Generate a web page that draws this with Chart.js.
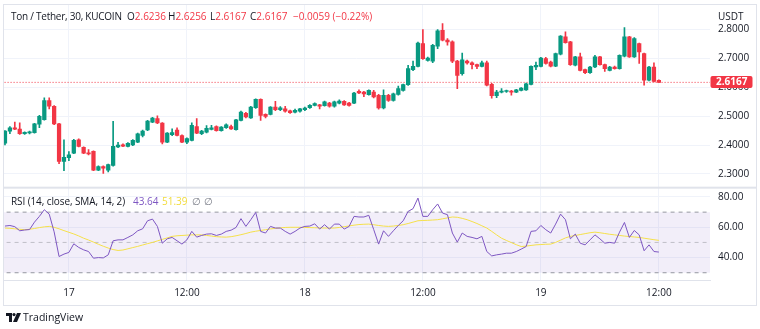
<!DOCTYPE html>
<html>
<head>
<meta charset="utf-8">
<script src="https://cdn.jsdelivr.net/npm/chart.js@4.4.0/dist/chart.umd.min.js"></script>
<style>
html, body { margin: 0; padding: 0; background: #fff; }
#wrap { position: relative; width: 760px; height: 329px; font-family: "Open Sans", sans-serif; color: #131722; }
#wrap canvas { position: absolute; left: 0; top: 0; }
#frame { position: absolute; left: 3px; top: 4px; width: 754px; height: 302px; border: 1px solid #e0e3eb; box-sizing: border-box; }
.t { position: absolute; font-size: 10px; line-height: 14px; white-space: nowrap; }
.r { color: #F23645; }
</style>
</head>
<body>
<div id="wrap">
  <canvas id="chart" width="760" height="329"></canvas>
  <div id="frame"></div>
  <span class="t" style="left:11px;top:9px;letter-spacing:-0.25px">Ton / Tether, 30, KUCOIN</span>
  <span class="t" style="left:127px;top:9px">O<span class="r">2.6236</span></span>
  <span class="t" style="left:168px;top:9px">H<span class="r">2.6256</span></span>
  <span class="t" style="left:210px;top:9px">L<span class="r">2.6167</span></span>
  <span class="t" style="left:250px;top:9px">C<span class="r">2.6167</span></span>
  <span class="t r" style="left:293px;top:9px">−0.0059 (−0.22%)</span>
  <span class="t" style="left:718px;top:9px">USDT</span>
  <span class="t" style="left:11px;top:194px;letter-spacing:-0.1px">RSI (14, close, SMA, 14, 2)</span>
  <span class="t" style="left:133px;top:194px;color:#7E57C2">43.64</span>
  <span class="t" style="left:162px;top:194px;color:#F2DC3C">51.39</span>
  <span class="t" style="left:192px;top:194px;color:#787B86">∅</span>
  <span class="t" style="left:204px;top:194px;color:#787B86">∅</span>
  <svg style="position:absolute;left:6px;top:313px" width="15" height="9" viewBox="0 0 15 9">
    <path d="M0 0h6v9H3V3H0z" fill="#131722"/>
    <circle cx="8" cy="1.6" r="1.6" fill="#131722"/>
    <path d="M11 0h4l-4 9H7z" fill="#131722"/>
  </svg>
  <span class="t" style="left:23px;top:310px;font-size:10.5px">TradingView</span>
</div>
<script>
// TON/USDT 30m candles with RSI pane

const tickIdx = [13, 37, 61, 85, 109, 133];
const tickLabels = ['17', '12:00', '18', '12:00', '19', '12:00'];

const opens = [
  2.406, 2.448, 2.459, 2.455, 2.439, 2.442, 2.443, 2.472, 2.488, 2.554,
  2.534, 2.473, 2.343, 2.356, 2.372, 2.418, 2.392, 2.373, 2.378, 2.313,
  2.325, 2.313, 2.329, 2.393, 2.401, 2.395, 2.400, 2.410, 2.433, 2.452,
  2.479, 2.491, 2.476, 2.410, 2.436, 2.452, 2.433, 2.410, 2.416, 2.464,
  2.439, 2.444, 2.454, 2.464, 2.450, 2.460, 2.464, 2.453, 2.485, 2.510,
  2.494, 2.529, 2.558, 2.506, 2.506, 2.531, 2.522, 2.525, 2.518, 2.514,
  2.517, 2.522, 2.529, 2.537, 2.539, 2.536, 2.545, 2.534, 2.545, 2.551,
  2.545, 2.545, 2.586, 2.583, 2.574, 2.583, 2.572, 2.528, 2.572, 2.554,
  2.575, 2.589, 2.609, 2.661, 2.672, 2.751, 2.693, 2.690, 2.742, 2.797,
  2.763, 2.757, 2.690, 2.647, 2.690, 2.684, 2.678, 2.672, 2.684, 2.610,
  2.571, 2.583, 2.585, 2.587, 2.583, 2.589, 2.591, 2.610, 2.670, 2.672,
  2.699, 2.687, 2.673, 2.714, 2.774, 2.757, 2.676, 2.705, 2.661, 2.650,
  2.670, 2.705, 2.678, 2.658, 2.670, 2.664, 2.707, 2.774, 2.705, 2.751,
  2.716, 2.624, 2.670, 2.6236
];
const highs = [
  2.450, 2.464, 2.479, 2.477, 2.446, 2.448, 2.475, 2.503, 2.563, 2.563,
  2.536, 2.475, 2.418, 2.377, 2.420, 2.421, 2.394, 2.384, 2.380, 2.328,
  2.328, 2.334, 2.482, 2.409, 2.404, 2.408, 2.419, 2.441, 2.452, 2.485,
  2.496, 2.501, 2.478, 2.443, 2.456, 2.459, 2.435, 2.425, 2.477, 2.491,
  2.451, 2.467, 2.468, 2.466, 2.464, 2.473, 2.469, 2.489, 2.517, 2.513,
  2.534, 2.560, 2.560, 2.508, 2.533, 2.551, 2.533, 2.534, 2.521, 2.524,
  2.527, 2.531, 2.540, 2.546, 2.541, 2.552, 2.548, 2.552, 2.556, 2.554,
  2.548, 2.582, 2.591, 2.586, 2.591, 2.589, 2.575, 2.591, 2.575, 2.580,
  2.604, 2.611, 2.676, 2.690, 2.756, 2.799, 2.704, 2.748, 2.799, 2.820,
  2.768, 2.760, 2.693, 2.718, 2.694, 2.688, 2.680, 2.690, 2.690, 2.613,
  2.589, 2.595, 2.590, 2.589, 2.593, 2.599, 2.614, 2.674, 2.687, 2.703,
  2.703, 2.690, 2.718, 2.779, 2.792, 2.759, 2.707, 2.718, 2.663, 2.672,
  2.710, 2.707, 2.680, 2.672, 2.673, 2.712, 2.806, 2.776, 2.772, 2.753,
  2.718, 2.672, 2.684, 2.6256
];
const lows = [
  2.400, 2.439, 2.453, 2.437, 2.437, 2.438, 2.441, 2.460, 2.486, 2.525,
  2.470, 2.335, 2.311, 2.346, 2.370, 2.393, 2.370, 2.366, 2.311, 2.311,
  2.302, 2.307, 2.327, 2.391, 2.394, 2.393, 2.398, 2.408, 2.428, 2.450,
  2.477, 2.474, 2.404, 2.408, 2.432, 2.431, 2.408, 2.405, 2.414, 2.439,
  2.436, 2.442, 2.452, 2.448, 2.448, 2.457, 2.454, 2.451, 2.483, 2.494,
  2.492, 2.527, 2.485, 2.494, 2.504, 2.519, 2.519, 2.514, 2.509, 2.511,
  2.514, 2.519, 2.527, 2.535, 2.525, 2.534, 2.531, 2.531, 2.542, 2.537,
  2.534, 2.543, 2.578, 2.567, 2.572, 2.563, 2.524, 2.525, 2.551, 2.552,
  2.572, 2.586, 2.606, 2.657, 2.670, 2.696, 2.690, 2.685, 2.733, 2.760,
  2.745, 2.685, 2.595, 2.642, 2.680, 2.663, 2.664, 2.670, 2.604, 2.562,
  2.564, 2.580, 2.582, 2.572, 2.581, 2.587, 2.589, 2.608, 2.661, 2.670,
  2.680, 2.670, 2.671, 2.712, 2.752, 2.675, 2.674, 2.656, 2.647, 2.648,
  2.668, 2.676, 2.655, 2.656, 2.662, 2.662, 2.705, 2.703, 2.703, 2.682,
  2.607, 2.622, 2.618, 2.6167
];
const closes = [
  2.448, 2.459, 2.455, 2.439, 2.444, 2.445, 2.473, 2.499, 2.554, 2.534,
  2.473, 2.343, 2.357, 2.366, 2.416, 2.395, 2.372, 2.369, 2.313, 2.325,
  2.320, 2.332, 2.395, 2.400, 2.396, 2.406, 2.416, 2.439, 2.448, 2.483,
  2.493, 2.476, 2.410, 2.441, 2.443, 2.433, 2.410, 2.422, 2.468, 2.441,
  2.448, 2.458, 2.459, 2.450, 2.462, 2.470, 2.456, 2.487, 2.514, 2.497,
  2.531, 2.558, 2.502, 2.499, 2.531, 2.522, 2.529, 2.517, 2.512, 2.520,
  2.525, 2.528, 2.537, 2.543, 2.534, 2.549, 2.534, 2.549, 2.552, 2.539,
  2.537, 2.580, 2.580, 2.577, 2.589, 2.566, 2.528, 2.572, 2.554, 2.577,
  2.595, 2.609, 2.664, 2.672, 2.753, 2.699, 2.701, 2.745, 2.795, 2.763,
  2.757, 2.690, 2.641, 2.695, 2.684, 2.678, 2.672, 2.684, 2.607, 2.571,
  2.583, 2.587, 2.587, 2.583, 2.591, 2.597, 2.612, 2.672, 2.676, 2.701,
  2.682, 2.673, 2.716, 2.777, 2.754, 2.678, 2.705, 2.658, 2.650, 2.670,
  2.705, 2.678, 2.664, 2.670, 2.664, 2.710, 2.774, 2.705, 2.768, 2.722,
  2.624, 2.670, 2.620, 2.6167
];

const rsi = [
  60.8, 61.2, 60.4, 57.7, 58.2, 58.5, 63.4, 67.2, 71.6, 68.7,
  57.0, 40.7, 42.3, 43.4, 49.1, 46.7, 45.1, 44.0, 39.6, 40.0,
  39.8, 41.8, 51.1, 51.7, 51.7, 53.3, 55.0, 57.7, 59.0, 64.3,
  65.4, 60.6, 49.5, 52.4, 53.3, 51.1, 48.9, 51.7, 57.3, 53.5,
  54.6, 55.5, 55.7, 54.6, 55.5, 57.3, 58.1, 59.9, 65.7, 60.6,
  65.0, 69.8, 57.3, 56.2, 60.6, 59.5, 59.5, 57.3, 55.5, 57.3,
  59.5, 60.6, 60.8, 62.3, 58.8, 61.7, 58.8, 62.1, 62.1, 58.8,
  60.6, 67.2, 66.8, 66.8, 67.9, 58.5, 48.9, 57.7, 54.0, 57.7,
  61.2, 64.3, 70.5, 72.3, 79.3, 67.2, 67.2, 71.6, 75.4, 69.4,
  68.3, 56.2, 50.2, 56.2, 54.0, 53.3, 52.4, 54.0, 44.0, 41.1,
  41.8, 42.3, 42.9, 42.9, 44.0, 45.6, 47.3, 57.3, 57.7, 61.2,
  58.4, 56.2, 62.1, 68.7, 65.0, 52.4, 55.5, 49.5, 48.4, 51.7,
  55.0, 52.4, 49.5, 50.0, 49.5, 56.8, 63.2, 53.3, 57.9, 55.0,
  44.5, 48.4, 44.0, 43.64
];
const rsiMa = [
  59.5, 59.3, 59.0, 58.7, 58.4, 58.7, 59.2, 59.8, 60.3, 60.6,
  60.0, 59.0, 57.8, 56.7, 55.6, 54.3, 52.8, 51.6, 50.2, 48.8,
  47.5, 46.3, 45.3, 44.7, 45.0, 45.8, 46.6, 47.4, 48.3, 49.2,
  50.0, 51.0, 52.0, 53.0, 54.0, 54.4, 54.6, 54.8, 55.0, 55.0,
  55.0, 54.6, 54.2, 53.8, 53.6, 53.5, 53.8, 54.4, 55.1, 55.9,
  56.8, 57.4, 57.9, 58.4, 58.9, 59.3, 59.6, 59.9, 60.0, 60.0,
  60.0, 59.9, 59.8, 59.7, 59.6, 59.5, 59.5, 59.5, 59.9, 60.4,
  60.9, 61.4, 61.8, 62.0, 62.1, 61.7, 61.2, 60.8, 60.6, 60.8,
  61.2, 61.7, 62.5, 63.4, 64.3, 64.5, 64.6, 64.8, 65.0, 65.6,
  66.2, 66.8, 66.6, 65.9, 65.0, 63.8, 62.5, 61.0, 59.5, 57.3,
  55.0, 52.8, 51.3, 49.9, 48.5, 47.3, 47.6, 48.0, 48.4, 48.6,
  48.8, 48.9, 50.0, 51.5, 53.0, 54.0, 54.6, 55.2, 55.8, 56.4,
  56.8, 56.4, 55.9, 55.4, 55.0, 54.6, 54.2, 53.9, 53.6, 53.3,
  52.8, 52.3, 51.8, 51.39
];

const rsiLevels = [70, 50, 30];
const lastPrice = 2.6167;

const upColor = '#089981';
const downColor = '#F23645';
const gridColor = '#f0f3fa';
const xMin = -0.3, xMax = 143.4;

const candleColors = opens.map((o, i) => closes[i] >= o ? upColor : downColor);
const flat = v => [{x: xMin - 1, y: v}, {x: xMax + 1, y: v}];

Chart.defaults.font.family = '"Open Sans", sans-serif';
Chart.defaults.font.size = 10;
Chart.defaults.color = '#131722';

// keep tick labels from pushing the panes around
const noPad = s => { s.paddingTop = 0; s.paddingBottom = 0; s.paddingLeft = 0; s.paddingRight = 0; };

// separator between panes + last price tag
const paneDecor = {
  id: 'paneDecor',
  afterDraw(chart) {
    const c = chart.ctx;
    const r = chart.scales.rsi;
    c.save();
    c.fillStyle = '#e0e3eb';
    c.fillRect(3, r.top - 1, 754, 2);
    const y = chart.scales.y.getPixelForValue(lastPrice);
    c.fillStyle = downColor;
    c.beginPath();
    c.roundRect(710.5, Math.round(y) - 6, 42, 12, 2);
    c.fill();
    c.fillStyle = '#fff';
    c.font = 'bold 10px "Open Sans", sans-serif';
    c.textBaseline = 'middle';
    c.fillText(lastPrice.toFixed(4), 716, Math.round(y) + 0.5);
    c.restore();
  }
};

new Chart(document.getElementById('chart'), {
  type: 'bar',
  data: {
    datasets: [
      {
        type: 'bar', order: 1, grouped: false, barThickness: 3.6, minBarLength: 1,
        data: opens.map((o, i) => ({x: i, y: [o, closes[i]]})),
        backgroundColor: candleColors, borderWidth: 0, yAxisID: 'y'
      },
      {
        type: 'bar', order: 2, grouped: false, barThickness: 1,
        data: lows.map((l, i) => ({x: i, y: [l, highs[i]]})),
        backgroundColor: candleColors, borderWidth: 0, yAxisID: 'y'
      },
      {
        type: 'line', order: 3, data: rsi.map((v, i) => ({x: i, y: v})),
        borderColor: '#7E57C2', borderWidth: 1, pointRadius: 0, yAxisID: 'rsi'
      },
      {
        type: 'line', order: 4, data: rsiMa.map((v, i) => ({x: i, y: v})),
        borderColor: '#F5E04A', borderWidth: 1, pointRadius: 0, yAxisID: 'rsi'
      },
      {
        type: 'line', order: 5, data: flat(lastPrice),
        borderColor: downColor, borderWidth: 1, borderDash: [1, 2], pointRadius: 0, yAxisID: 'y'
      },
      {
        type: 'line', order: 8, data: flat(rsiLevels[0]), fill: '+1',
        backgroundColor: 'rgba(126, 87, 194, 0.1)',
        borderColor: '#9598a1', borderWidth: 1, borderDash: [4, 4], pointRadius: 0, yAxisID: 'rsi'
      },
      {
        type: 'line', order: 7, data: flat(rsiLevels[2]),
        borderColor: '#9598a1', borderWidth: 1, borderDash: [4, 4], pointRadius: 0, yAxisID: 'rsi'
      },
      {
        type: 'line', order: 6, data: flat(rsiLevels[1]),
        borderColor: 'rgba(149, 152, 161, 0.55)', borderWidth: 1, borderDash: [4, 4], pointRadius: 0, yAxisID: 'rsi'
      }
    ]
  },
  options: {
    responsive: false,
    animation: false,
    layout: {padding: {left: 3.5, top: 5, right: 3, bottom: 24}},
    plugins: {legend: {display: false}, tooltip: {enabled: false}},
    scales: {
      x: {
        type: 'linear', min: xMin, max: xMax, offset: false,
        afterBuildTicks: s => { s.ticks = tickIdx.map(v => ({value: v})); },
        afterFit: s => { s.height = 25; noPad(s); },
        ticks: {autoSkip: false, maxRotation: 0, padding: 7, callback: (v, i) => tickLabels[i]},
        grid: {color: gridColor, drawTicks: false, offset: false},
        border: {color: '#e0e3eb'}
      },
      y: {
        position: 'right', stack: 'panes', stackWeight: 182,
        min: 2.2524, max: 2.8844,
        afterFit: s => { s.width = 47; noPad(s); },
        ticks: {stepSize: 0.1, includeBounds: false, padding: 8, callback: v => v.toFixed(4)},
        grid: {color: gridColor, drawTicks: false},
        border: {display: false}
      },
      rsi: {
        position: 'right', stack: 'panes', stackWeight: 92,
        min: 25.2, max: 86.16,
        afterFit: s => { s.width = 47; noPad(s); },
        ticks: {stepSize: 20, includeBounds: false, padding: 8, callback: v => v.toFixed(2)},
        grid: {color: gridColor, drawTicks: false},
        border: {display: false}
      }
    }
  },
  plugins: [paneDecor]
});
</script>
</body>
</html>
